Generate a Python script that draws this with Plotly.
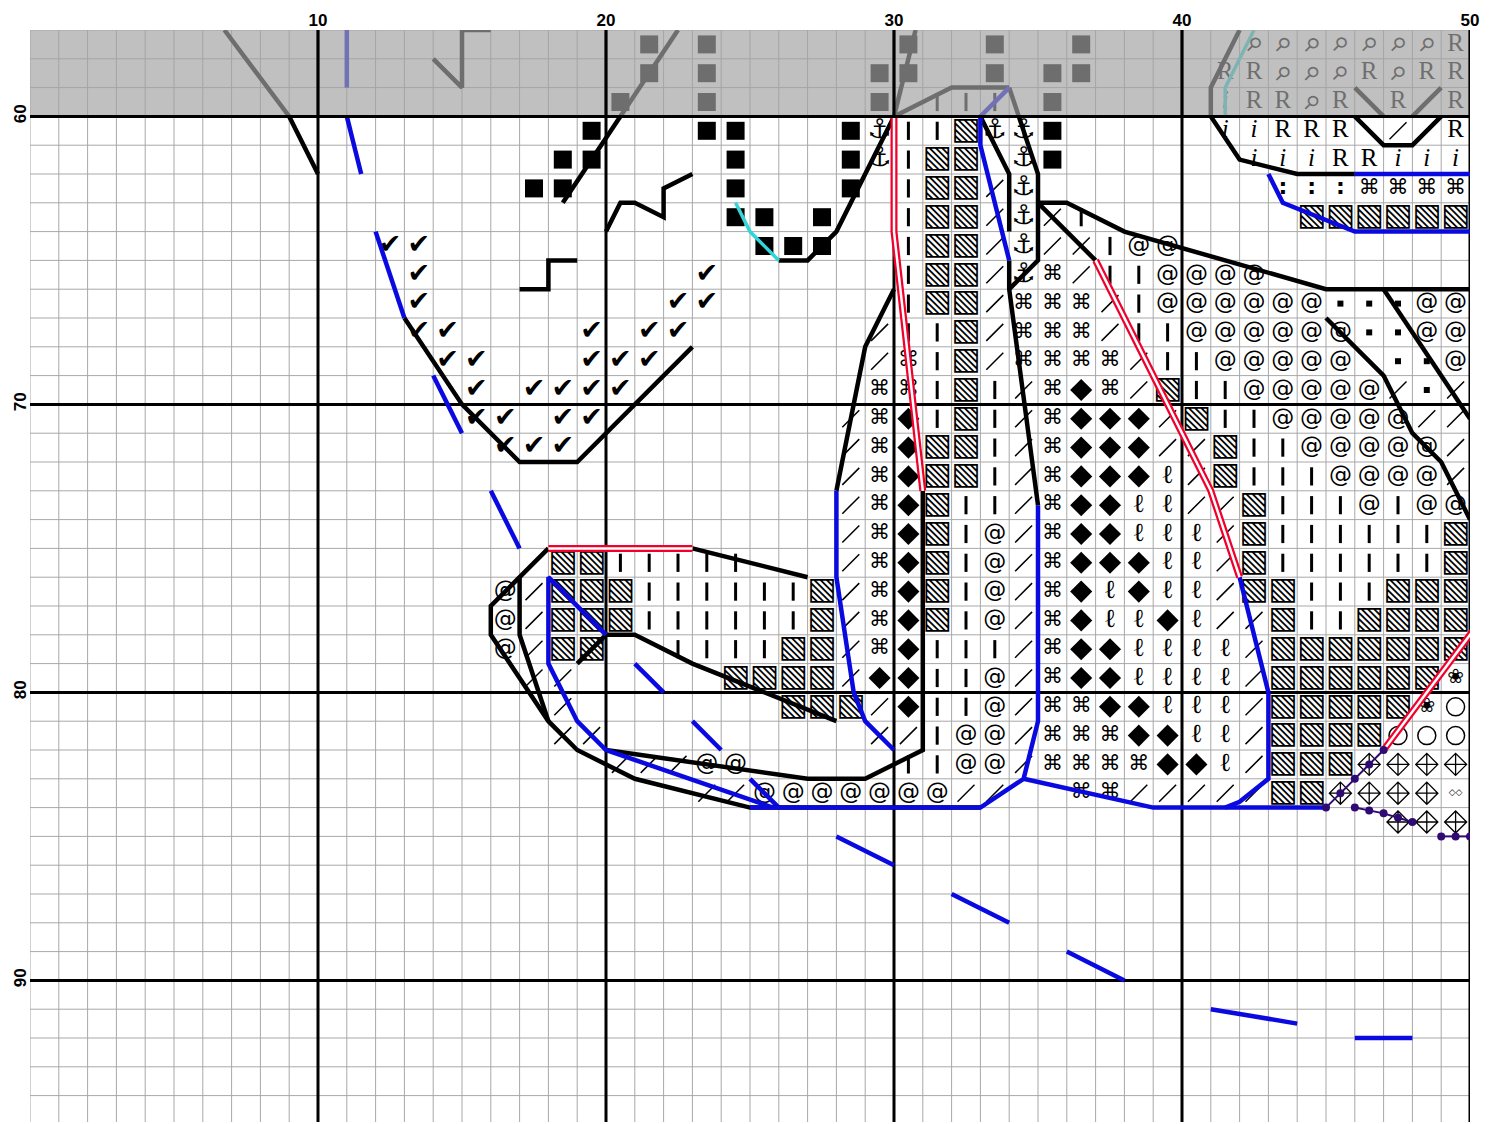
import plotly.graph_objects as go

# ---------------- axes / page geometry ----------------
X_RANGE = [0, 50]
Y_TOP = 57
Y_BOTTOM = 57 + 1092 / 28.8
X_TICKS = [10, 20, 30, 40, 50]
Y_TICKS = [60, 70, 80, 90]
OVERLAP_BAND = [57, 60]          # rows repeated from the previous page (greyed)

# ---------------- stitch symbols, one string per row ----------------
# codes: S square, H hatched square, D diamond, C command, A at-sign, / slash,
# | bar, L script-l, V tick, N anchor, R letter R, i italic i, P pin,
# : colon, . dot, F flower, O circle, X diamond-cross, W double diamond, _ empty
PATTERN_ROWS = list(range(57, 85))
PATTERN_START = [21, 21, 20, 19, 18, 17, 24, 12, 13, 13, 13, 14, 15, 15,
                 16, 28, 28, 28, 18, 16, 16, 16, 17, 18, 18, 20, 23, 47]
PATTERN_CODES = [
    "S_S______S__S__S_____PPPPPPPR",
    "S_S_____SS__S_SS____RRPPPRPRR",
    "S__S_____S_|||_S_____iRRPR_R_R",
    "S___SS___SN||HNNS_____iiRRR_/_R",
    "SS____S___SN|HH_NS______iiiRRiii",
    "SS_____S___S_|HH/N________:::CCCC",
    "SS_S__|HH/N/|_______HHHHHH",
    "VV___________SSS__|HH/N//|AA",
    "V_________V______|HH/NC/||AAAA",
    "V________VV______|HH/CCC/|AAAAAA...AA",
    "VV____V_VV______/||H/CCC/||AAAAAA..AA",
    "VV___VVV_______/C|H/CCCC/||AAAAA_..A",
    "V_VVVV________CC|H|/CDC/H||AAAAA/./",
    "VV_VV________/CD|H|/CDDD/H||AAAAA//",
    "VVV_________/CDHH|/CDDD//H||AAAAA/",
    "/CDHH|/CDDDL/H|||AAAA/",
    "/CDH||/CDDLL//H|||A|AA",
    "/CDH|A/CDDLLL/H||||||H",
    "HH|||||___/CDH|A/CDDDLL/H||||||H",
    "A/HHH||||||H/CDH|A/CDLDLL/HH|||HHH",
    "A/HHH||||||H/CDH|A/CDLLDL//H||HHHH",
    "A/HH__||||HH/CD|||/CDDLLLL/HHHHHHH",
    "//_____HHHH/DD||A/CDDLLLL/HHHHHHF",
    "/_______HHH/D||A/CCDDLLL/HHHHHFO",
    "//_________//|AA/CCCDDLL/HHHHOOO",
    "///AA_____||AA/CCCCDDL/HHHXXXX",
    "//AAAAAAA//__CC/////HHXXXXW",
    "XXX",
]

# ---------------- back-stitch lines (grid coordinates) ----------------
BLACK_LINES = [
    [(6.75, 57), (9, 60), (10, 62)],
    [(14, 58), (15, 59), (15, 57), (16, 57)],
    [(22.5, 57), (18.5, 63)],
    [(17, 66), (18, 66), (18, 65), (19, 65)],
    [(20, 64), (20.5, 63), (21, 63), (22, 63.5), (22, 62.5), (23, 62)],
    [(26, 65), (27, 65), (28, 64), (30, 60), (30.75, 57)],
    [(30, 60), (32, 59), (34, 59)],
    [(33, 60), (34, 62), (34, 64)],
    [(34, 59), (35, 62), (35, 65), (34, 66)],
    [(34, 65), (34, 66), (35, 73.5)],
    [(35, 63), (36, 63), (38, 64), (45, 66), (50, 66)],
    [(35, 63), (37, 65)],
    [(45, 67), (47, 69), (48, 71), (49, 72), (50, 74)],
    [(47, 66), (50, 70.5)],
    [(42, 57), (41, 59), (41, 60), (42, 61.5), (44, 62), (46, 62)],
    [(46, 59), (47, 60)],
    [(49, 59), (48, 60)],
    [(46, 60), (47, 61), (48, 61), (49, 60)],
    [(30, 66), (29, 68), (28, 73)],
    [(31, 73), (31, 82), (29, 83), (27, 83), (20, 82)],
    [(18, 75), (16, 77), (16, 78), (18, 81), (19, 82), (21, 83), (25, 84), (33, 84)],
    [(17, 76), (17, 78), (18, 81)],
    [(23, 75), (27, 76)],
    [(19, 79), (20, 78), (21, 78), (23, 79), (28, 81)],
    [(13, 67), (15, 70), (17, 72), (19, 72), (23, 68)],
]
BLUE_LINES = [
    [(34, 59), (33, 60), (33, 61), (34, 65)],
    [(28, 73), (28, 76), (28.6, 80), (29, 81), (30, 82)],
    [(20, 78), (18, 76), (18, 79), (19, 81), (20, 82), (25.8, 84)],
    [(35, 73.5), (35, 81), (34.5, 83), (33, 84), (25, 84)],
    [(34.5, 83), (39, 84), (45, 84)],
    [(42, 76), (43, 80), (43, 83), (42, 83.8), (41.5, 84)],
    [(43, 62), (43.5, 63), (46, 64), (50, 64)],
    [(46, 62), (50, 62)],
]
BLUE_DASHES = [
    [(11, 57), (11, 59)], [(11, 60), (11.5, 62)], [(12, 64), (13, 67)],
    [(14, 69), (15, 71)], [(16, 73), (17, 75)], [(21, 79), (22, 80)],
    [(23, 81), (24, 82)], [(25, 83), (26, 84)], [(28, 85), (30, 86)],
    [(32, 87), (34, 88)], [(36, 89), (38, 90)], [(41, 91), (44, 91.5)],
    [(46, 92), (48, 92)],
]
CYAN_LINES = [
    [(24.5, 63), (25, 64), (26, 65)],
    [(42.5, 57), (41.5, 59), (41.5, 60)],
]
RED_LINES = [
    [(37, 65), (41, 73), (42, 76)],
    [(30, 60), (30, 64), (31, 73)],
    [(18, 75), (23, 75)],
    [(47, 82), (50.3, 77.6)],
]
PURPLE_LINES = [
    [(45, 84), (45.5, 83.5), (46, 83), (46.5, 82.5), (47, 82)],
    [(46, 84), (46.5, 84.1), (47, 84.2), (47.5, 84.35), (48, 84.5)],
    [(49, 85), (49.5, 85), (50, 85)],
]

# ---------------- styles ----------------
MARKER_STYLE = {
    "S": dict(symbol="square", size=18, color="black", line=dict(width=0)),
    "D": dict(symbol="diamond", size=17, color="black", line=dict(width=0)),
    "O": dict(symbol="circle-open", size=18, color="black", line=dict(width=1.5, color="black")),
    "X": dict(symbol="diamond-cross-open", size=17, color="black", line=dict(width=1.3, color="black")),
    "|": dict(symbol="line-ns", size=13, color="black", line=dict(width=3, color="black")),
    "/": dict(symbol="line-ne", size=17, color="black", line=dict(width=1.5, color="black")),
    ".": dict(symbol="square", size=6, color="black", line=dict(width=0)),
}
TEXT_STYLE = {
    "H": ("▧", "DejaVu Sans", 31),
    "C": ("⌘", "DejaVu Sans", 21),
    "A": ("@", "DejaVu Sans", 23),
    "L": ("ℓ", "DejaVu Serif", 26),
    "V": ("✔", "DejaVu Sans", 27),
    "N": ("⚓", "DejaVu Sans", 27),
    "R": ("R", "Liberation Serif", 25),
    "i": ("<i>i</i>", "Liberation Serif", 25),
    ":": ("<b>:</b>", "DejaVu Sans", 22),
    "F": ("❀", "DejaVu Sans", 20),
    "W": ("◇◇", "DejaVu Sans", 9),
}

fig = go.Figure()

# minor grid (every stitch)
gx, gy = [], []
for v in range(int(X_RANGE[0]), int(X_RANGE[1]) + 1):
    gx += [v, v, None]
    gy += [Y_TOP, Y_BOTTOM, None]
for v in range(Y_TOP, int(Y_BOTTOM) + 1):
    gx += [X_RANGE[0], X_RANGE[1], None]
    gy += [v, v, None]
fig.add_trace(go.Scatter(x=gx, y=gy, mode="lines", line=dict(color="#a8a8a8", width=1),
                         hoverinfo="skip", showlegend=False))

# major grid (every 10)
mx, my = [], []
for v in X_TICKS:
    mx += [v, v, None]
    my += [Y_TOP, Y_BOTTOM, None]
for v in Y_TICKS:
    mx += [X_RANGE[0], X_RANGE[1], None]
    my += [v, v, None]
fig.add_trace(go.Scatter(x=mx, y=my, mode="lines", line=dict(color="black", width=3),
                         hoverinfo="skip", showlegend=False))

# collect cells per code
cells = {}
for row, start, codes in zip(PATTERN_ROWS, PATTERN_START, PATTERN_CODES):
    for k, ch in enumerate(codes):
        if ch == "_":
            continue
        xs, ys = cells.setdefault(ch, ([], []))
        xs.append(start + k + 0.5)
        ys.append(row + 0.5)

for ch, (xs, ys) in cells.items():
    if ch in MARKER_STYLE:
        fig.add_trace(go.Scatter(x=xs, y=ys, mode="markers", marker=MARKER_STYLE[ch],
                                 hoverinfo="skip", showlegend=False, cliponaxis=True))
    elif ch in TEXT_STYLE:
        glyph, fam, size = TEXT_STYLE[ch]
        fig.add_trace(go.Scatter(x=xs, y=ys, mode="text", text=[glyph] * len(xs),
                                 textposition="middle center",
                                 textfont=dict(family=fam, size=size, color="black"),
                                 hoverinfo="skip", showlegend=False))


def poly_xy(lines):
    xs, ys = [], []
    for pts in lines:
        for (x, y) in pts:
            xs.append(x)
            ys.append(y)
        xs.append(None)
        ys.append(None)
    return xs, ys


def add_lines(lines, color, width, mode="lines", marker=None):
    xs, ys = poly_xy(lines)
    kw = dict(x=xs, y=ys, mode=mode, line=dict(color=color, width=width),
              hoverinfo="skip", showlegend=False)
    if marker:
        kw["marker"] = marker
    fig.add_trace(go.Scatter(**kw))


add_lines(BLUE_DASHES, "#0a0ae0", 4.5)
add_lines(BLACK_LINES, "black", 4.5)
add_lines(BLUE_LINES, "#0a0ae0", 4.5)
add_lines(CYAN_LINES, "#33d6d6", 3.5)
add_lines(RED_LINES, "#f0002a", 7)
add_lines(RED_LINES, "white", 2.5)
add_lines(PURPLE_LINES, "#2f0a72", 2, mode="lines+markers",
          marker=dict(size=8, color="#2f0a72"))

# greyed band from previous page + its heavy grid lines
shapes = [dict(type="rect", xref="x", yref="y", x0=X_RANGE[0], x1=X_RANGE[1],
               y0=OVERLAP_BAND[0], y1=OVERLAP_BAND[1], layer="above",
               fillcolor="rgba(162,162,162,0.68)", line=dict(width=0))]
for v in X_TICKS:
    shapes.append(dict(type="line", xref="x", yref="y", x0=v, x1=v,
                       y0=OVERLAP_BAND[0], y1=OVERLAP_BAND[1], layer="above",
                       line=dict(color="black", width=3)))
shapes.append(dict(type="line", xref="x", yref="y", x0=X_RANGE[0], x1=X_RANGE[1],
                   y0=OVERLAP_BAND[1], y1=OVERLAP_BAND[1], layer="above",
                   line=dict(color="black", width=3)))

annotations = []
for row, start, codes in zip(PATTERN_ROWS, PATTERN_START, PATTERN_CODES):
    for k, ch in enumerate(codes):
        if ch == "P":
            annotations.append(dict(x=start + k + 0.5, y=row + 0.5, xref="x", yref="y",
                                    text="⚲", showarrow=False, textangle=45,
                                    font=dict(family="DejaVu Sans", size=19, color="#6e6e6e")))

fig.update_layout(
    width=1481, height=1116,
    margin=dict(l=22, r=19, t=22, b=2, autoexpand=False),
    paper_bgcolor="white", plot_bgcolor="white",
    shapes=shapes, annotations=annotations,
    xaxis=dict(range=X_RANGE, side="top", tickvals=X_TICKS, automargin=False,
               ticktext=[f"<b>{v}</b>" for v in X_TICKS], showgrid=False,
               zeroline=False, ticks="", showline=False,
               tickfont=dict(family="Liberation Sans", size=17, color="black")),
    yaxis=dict(range=[Y_BOTTOM, Y_TOP], tickvals=Y_TICKS, automargin=False,
               ticktext=[f"<b>{v}</b>" for v in Y_TICKS], showgrid=False,
               zeroline=False, ticks="", showline=False, tickangle=-90,
               tickfont=dict(family="Liberation Sans", size=17, color="black")),
)

fig.write_html("out.html")
